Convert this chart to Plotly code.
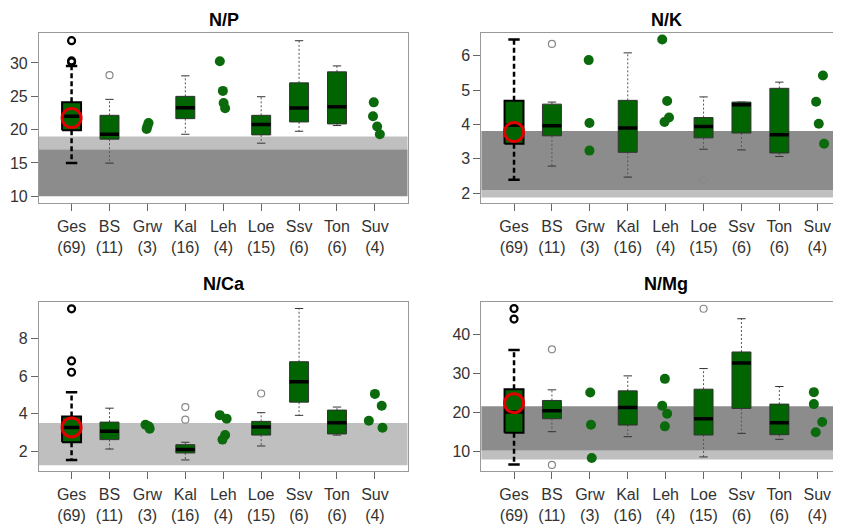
import plotly.graph_objects as go

# groups along the x axis and number of samples
groups = ["Ges", "BS", "Grw", "Kal", "Leh", "Loe", "Ssv", "Ton", "Suv"]
counts = [69, 11, 3, 16, 4, 15, 6, 6, 4]
box_groups = ["Ges", "BS", "Kal", "Loe", "Ssv", "Ton"]

# ---- N/P ----
np_q1 = [19.9, 18.56, 21.64, 19.2, 21.14, 20.85]
np_med = [22.0, 19.3, 23.28, 20.75, 23.23, 23.43]
np_q3 = [24.08, 22.14, 24.98, 22.14, 27.01, 28.66]
np_lo = [14.97, 14.97, 19.3, 17.96, 19.75, 20.6]
np_hi = [29.55, 24.53, 28.06, 24.93, 33.33, 29.55]
np_out_grp = ["Ges", "Ges", "Ges", "BS"]
np_out_val = [33.33, 30.3, 30.15, 28.16]
np_dot_grp = ["Grw"] * 3 + ["Leh"] * 4 + ["Suv"] * 4
np_dot_val = [21.0, 20.5, 20.1, 30.25, 25.8, 24.0, 23.2, 24.08, 21.99, 20.45, 19.3]
np_dot_jit = [0.03, 0.0, -0.02, -0.09, -0.01, 0.01, 0.05, -0.03, -0.05, 0.06, 0.13]
np_mean = 21.74
np_dark = [10.0, 17.06]
np_light = [17.06, 18.96]
np_ticks = [10, 15, 20, 25, 30]

# ---- N/K ----
nk_q1 = [3.44, 3.67, 3.19, 3.61, 3.75, 3.17]
nk_med = [3.98, 3.96, 3.90, 3.94, 4.57, 3.70]
nk_q3 = [4.69, 4.59, 4.70, 4.20, 4.65, 5.05]
nk_lo = [2.39, 2.79, 2.47, 3.28, 3.26, 3.07]
nk_hi = [6.47, 4.65, 6.08, 4.80, 4.65, 5.23]
nk_out_grp = ["BS", "Loe"]
nk_out_val = [6.34, 2.39]
nk_dot_grp = ["Grw"] * 3 + ["Leh"] * 4 + ["Suv"] * 4
nk_dot_val = [5.87, 4.04, 3.24, 6.47, 4.68, 4.20, 4.07, 5.42, 4.66, 4.02, 3.44]
nk_dot_jit = [-0.03, -0.01, -0.01, -0.09, 0.04, 0.09, -0.03, 0.15, -0.03, 0.04, 0.18]
nk_mean = 3.78
nk_dark = [2.08, 3.81]
nk_light = [1.88, 2.08]
nk_ticks = [2, 3, 4, 5, 6]

# ---- N/Ca ----
nca_q1 = [2.48, 2.62, 1.91, 2.86, 4.61, 2.92]
nca_med = [3.27, 3.06, 2.10, 3.29, 5.69, 3.52]
nca_q3 = [3.85, 3.55, 2.35, 3.59, 6.76, 4.19]
nca_lo = [1.54, 2.12, 1.54, 2.28, 3.91, 2.86]
nca_hi = [5.14, 4.29, 2.48, 4.05, 9.59, 4.35]
nca_out_grp = ["Ges", "Ges", "Ges", "Kal", "Kal", "Loe"]
nca_out_val = [9.57, 6.8, 6.2, 4.35, 3.68, 5.07]
nca_dot_grp = ["Grw"] * 3 + ["Leh"] * 4 + ["Suv"] * 4
nca_dot_val = [3.41, 3.32, 3.2, 3.92, 3.73, 2.86, 2.62, 5.05, 4.42, 3.62, 3.25]
nca_dot_jit = [-0.05, 0.04, 0.06, -0.09, 0.09, 0.05, -0.02, 0.0, 0.18, -0.16, 0.2]
nca_mean = 3.27
nca_dark = None
nca_light = [1.26, 3.5]
nca_ticks = [2, 4, 6, 8]

# ---- N/Mg ----
nmg_q1 = [14.83, 18.39, 16.78, 14.24, 21.02, 14.32]
nmg_med = [20.08, 20.42, 21.27, 18.39, 32.63, 17.37]
nmg_q3 = [25.93, 23.05, 25.5, 25.93, 35.42, 22.12]
nmg_lo = [6.69, 15.08, 13.81, 8.64, 14.66, 13.14]
nmg_hi = [35.93, 25.76, 29.32, 31.19, 43.9, 26.61]
nmg_out_grp = ["Ges", "Ges", "BS", "BS", "Loe"]
nmg_out_val = [46.5, 43.8, 36.1, 6.61, 46.44]
nmg_dot_grp = ["Grw"] * 3 + ["Leh"] * 4 + ["Suv"] * 4
nmg_dot_val = [25.08, 16.86, 8.39, 28.56, 21.69, 19.66, 16.44, 25.17, 22.12, 17.54, 14.92]
nmg_dot_jit = [0.01, 0.03, 0.05, -0.02, -0.09, 0.04, -0.02, -0.09, -0.09, 0.13, -0.04]
nmg_mean = 22.37
nmg_dark = [10.25, 21.55]
nmg_light = [7.96, 10.25]
nmg_ticks = [10, 20, 30, 40]

FONT = "Liberation Sans, Arial, Helvetica, sans-serif"
BOX_FILL = "#006400"
DOT = "#0b6a0b"
DARK_BAND = "#8c8c8c"
LIGHT_BAND = "#bfbfbf"

fig = go.Figure()
pos = {g: i + 1 for i, g in enumerate(groups)}


def add_panel(k, q1, med, q3, lo, hi, out_grp, out_val, dot_grp, dot_val, dot_jit,
              mean, dark, light):
    xa = "x" if k == 1 else f"x{k}"
    ya = "y" if k == 1 else f"y{k}"
    hw = 0.25
    common = dict(xaxis=xa, yaxis=ya, showlegend=False, hoverinfo="skip")

    # reference bands
    if dark:
        fig.add_shape(type="rect", xref=f"{xa} domain", yref=ya, x0=0, x1=1,
                      y0=dark[0], y1=dark[1], fillcolor=DARK_BAND, line_width=0, layer="below")
    if light:
        fig.add_shape(type="rect", xref=f"{xa} domain", yref=ya, x0=0, x1=1,
                      y0=light[0], y1=light[1], fillcolor=LIGHT_BAND, line_width=0, layer="below")

    # whiskers
    gx, gy, ox, oy = [], [], [], []
    for i, g in enumerate(box_groups):
        c = pos[g]
        xs = [c, c, None, c, c, None]
        ys = [q3[i], hi[i], None, q1[i], lo[i], None]
        if g == "Ges":
            gx += xs; gy += ys
        else:
            ox += xs; oy += ys
    fig.add_trace(go.Scatter(x=ox, y=oy, mode="lines",
                             line=dict(color="#555555", width=1, dash="2px,2px"), **common))
    fig.add_trace(go.Scatter(x=gx, y=gy, mode="lines",
                             line=dict(color="black", width=2.5, dash="5px,3px"), **common))

    # caps
    cx, cy, gcx, gcy = [], [], [], []
    for i, g in enumerate(box_groups):
        c = pos[g]
        if g == "Ges":
            w = 0.15
            gcx += [c - w, c + w, None, c - w, c + w, None]
            gcy += [hi[i], hi[i], None, lo[i], lo[i], None]
        else:
            w = 0.11
            cx += [c - w, c + w, None, c - w, c + w, None]
            cy += [hi[i], hi[i], None, lo[i], lo[i], None]
    fig.add_trace(go.Scatter(x=cx, y=cy, mode="lines",
                             line=dict(color="#333333", width=1), **common))
    fig.add_trace(go.Scatter(x=gcx, y=gcy, mode="lines",
                             line=dict(color="black", width=2.5), **common))

    # boxes
    for i, g in enumerate(box_groups):
        c = pos[g]
        ges = g == "Ges"
        fig.add_trace(go.Scatter(
            x=[c - hw, c + hw, c + hw, c - hw, c - hw],
            y=[q1[i], q1[i], q3[i], q3[i], q1[i]],
            mode="lines", fill="toself", fillcolor=BOX_FILL,
            line=dict(color="black" if ges else "#333333", width=2 if ges else 1), **common))

    # medians
    mx, my = [], []
    for i, g in enumerate(box_groups):
        c = pos[g]
        mx += [c - hw, c + hw, None]
        my += [med[i], med[i], None]
    fig.add_trace(go.Scatter(x=mx, y=my, mode="lines",
                             line=dict(color="black", width=3.5), **common))

    # outliers
    gxo = [pos[g] for g in out_grp if g == "Ges"]
    gyo = [v for g, v in zip(out_grp, out_val) if g == "Ges"]
    oxo = [pos[g] for g in out_grp if g != "Ges"]
    oyo = [v for g, v in zip(out_grp, out_val) if g != "Ges"]
    fig.add_trace(go.Scatter(x=oxo, y=oyo, mode="markers",
                             marker=dict(symbol="circle-open", size=7, color="#888888",
                                         line=dict(width=1.2, color="#888888")), **common))
    fig.add_trace(go.Scatter(x=gxo, y=gyo, mode="markers",
                             marker=dict(symbol="circle-open", size=7, color="black",
                                         line=dict(width=2.2, color="black")), **common))

    # small groups as points
    fig.add_trace(go.Scatter(x=[pos[g] + j for g, j in zip(dot_grp, dot_jit)], y=dot_val,
                             mode="markers", marker=dict(size=10, color=DOT), **common))

    # mean of Ges
    fig.add_trace(go.Scatter(x=[pos["Ges"]], y=[mean], mode="markers",
                             marker=dict(symbol="circle-open", size=19, color="#e00000",
                                         line=dict(width=3, color="#e00000")), **common))


add_panel(1, np_q1, np_med, np_q3, np_lo, np_hi, np_out_grp, np_out_val,
          np_dot_grp, np_dot_val, np_dot_jit, np_mean, np_dark, np_light)
add_panel(2, nk_q1, nk_med, nk_q3, nk_lo, nk_hi, nk_out_grp, nk_out_val,
          nk_dot_grp, nk_dot_val, nk_dot_jit, nk_mean, nk_dark, nk_light)
add_panel(3, nca_q1, nca_med, nca_q3, nca_lo, nca_hi, nca_out_grp, nca_out_val,
          nca_dot_grp, nca_dot_val, nca_dot_jit, nca_mean, nca_dark, nca_light)
add_panel(4, nmg_q1, nmg_med, nmg_q3, nmg_lo, nmg_hi, nmg_out_grp, nmg_out_val,
          nmg_dot_grp, nmg_dot_val, nmg_dot_jit, nmg_mean, nmg_dark, nmg_light)

# the page body adds an 8px margin, so the figure is 8px smaller and shifted
OFF = 8
W, H = 841 - OFF, 531 - OFF
panels = [
    # x pixel span, y pixel span, x range, y range, y ticks, title
    ((39, 408), (33, 204), [0.14, 9.86], [8.95, 34.5], np_ticks, "N/P"),
    ((482, 841), (33, 204), [0.14, 9.6], [1.71, 6.66], nk_ticks, "N/K"),
    ((39, 408), (303, 473), [0.14, 9.86], [0.94, 9.94], nca_ticks, "N/Ca"),
    ((482, 841), (303, 473), [0.14, 9.6], [5.0, 48.2], nmg_ticks, "N/Mg"),
]
ticktext = [f"{g}<br>({n})" for g, n in zip(groups, counts)]
title_pos = [(224, 8), (667, 8), (224, 273), (667, 273)]

layout = dict(width=W, height=H, margin=dict(l=0, r=0, t=0, b=0),
              paper_bgcolor="white", plot_bgcolor="white",
              font=dict(family=FONT, color="#333333"))
for k, (xs, ys, xr, yr, yt, title) in enumerate(panels, start=1):
    sx = "" if k == 1 else str(k)
    layout[f"xaxis{sx}"] = dict(
        domain=[(xs[0] - OFF) / W, min(1.0, (xs[1] - OFF) / W)], range=xr, anchor=f"y{sx}",
        tickvals=list(range(1, 10)), ticktext=ticktext, ticks="outside", ticklen=7,
        tickcolor="#666666", showline=True, linecolor="#999999", mirror=True,
        showgrid=False, zeroline=False, ticklabelstandoff=2,
        tickfont=dict(size=16, color="#333333"))
    layout[f"yaxis{sx}"] = dict(
        domain=[1 - (ys[1] - OFF) / H, 1 - (ys[0] - OFF) / H], range=yr, anchor=f"x{sx}",
        tickvals=yt, ticks="outside", ticklen=7, tickcolor="#666666",
        showline=True, linecolor="#999999", mirror=True,
        showgrid=False, zeroline=False, tickfont=dict(size=16, color="#333333"))
fig.update_layout(**layout)

for (tx, ty), (*_, title) in zip(title_pos, panels):
    fig.add_annotation(x=(tx - OFF) / W, y=1 - (ty - OFF) / H, xref="paper", yref="paper",
                       xanchor="center", yanchor="top", text=f"<b>{title}</b>",
                       showarrow=False, font=dict(size=18, color="black", family=FONT))

fig.write_html("out.html")
